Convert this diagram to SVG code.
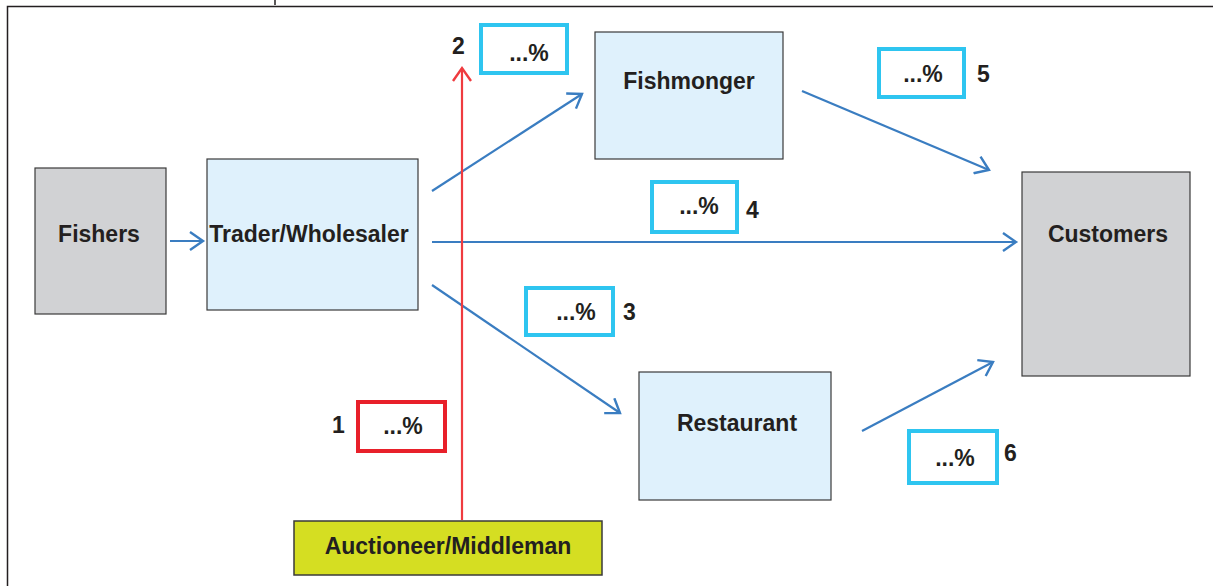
<svg xmlns="http://www.w3.org/2000/svg" width="1213" height="586" viewBox="0 0 1213 586">
  <defs>
    <style>
      .label { font-family: "Liberation Sans", Arial, sans-serif; font-weight: bold; font-size: 23px; fill: #231f20; }
      .mid { text-anchor: middle; }
      .gray { fill: #d1d2d4; stroke: #3a3a3a; stroke-width: 1.2; }
      .light { fill: #dff1fc; stroke: #3a3a3a; stroke-width: 1.2; }
      .auction { fill: #d5de22; stroke: #3a3a3a; stroke-width: 1.5; }
      .pct { fill: #ffffff; stroke: #2ec5f0; stroke-width: 4; }
      .pct-red { fill: #ffffff; stroke: #e8202a; stroke-width: 4; }
      .flow { fill: none; stroke: #3a7dc1; stroke-width: 2.2; marker-end: url(#head-blue); }
      .flow-red { fill: none; stroke: #ef3b3f; stroke-width: 2.2; marker-end: url(#head-red); }
    </style>
    <marker id="head-blue" viewBox="-16 -10 20 20" refX="0" refY="0" markerWidth="20" markerHeight="20" markerUnits="userSpaceOnUse" orient="auto">
      <path d="M-13,-9 L0,0 L-13,9" fill="none" stroke="#3a7dc1" stroke-width="2.4"/>
    </marker>
    <marker id="head-red" viewBox="-16 -10 20 20" refX="0" refY="0" markerWidth="20" markerHeight="20" markerUnits="userSpaceOnUse" orient="auto">
      <path d="M-13,-9 L0,0 L-13,9" fill="none" stroke="#ef3b3f" stroke-width="2.4"/>
    </marker>
  </defs>

  <rect width="1213" height="586" fill="#ffffff"/>

  <!-- outer frame -->
  <path d="M7.5,586 V6.5 H1213" fill="none" stroke="#231f20" stroke-width="1.5"/>
  <line x1="275" y1="0" x2="275" y2="5" stroke="#231f20" stroke-width="1.5"/>

  <!-- connectors -->
  <g id="connectors">
    <line class="flow" x1="170" y1="241" x2="203" y2="241"/>
    <line class="flow" x1="432" y1="191" x2="582" y2="94"/>
    <line class="flow" x1="432" y1="242" x2="1016" y2="242"/>
    <line class="flow" x1="432" y1="285" x2="620" y2="413"/>
    <line class="flow" x1="802" y1="91" x2="989" y2="170"/>
    <line class="flow" x1="862" y1="431" x2="993" y2="362"/>
    <line class="flow-red" x1="462" y1="520" x2="462" y2="68"/>
  </g>

  <!-- nodes -->
  <g id="fishers">
    <rect class="gray" x="35" y="168" width="131" height="146"/>
    <text class="label mid" x="99" y="242">Fishers</text>
  </g>
  <g id="trader">
    <rect class="light" x="207" y="159" width="211" height="151"/>
    <text class="label mid" x="309" y="242">Trader/Wholesaler</text>
  </g>
  <g id="fishmonger">
    <rect class="light" x="595" y="32" width="188" height="127"/>
    <text class="label mid" x="689" y="89">Fishmonger</text>
  </g>
  <g id="restaurant">
    <rect class="light" x="639" y="372" width="192" height="128"/>
    <text class="label mid" x="737" y="431">Restaurant</text>
  </g>
  <g id="customers">
    <rect class="gray" x="1022" y="172" width="168" height="204"/>
    <text class="label mid" x="1108" y="242">Customers</text>
  </g>
  <g id="auctioneer">
    <rect class="auction" x="294" y="521" width="308" height="54"/>
    <text class="label mid" x="448" y="554">Auctioneer/Middleman</text>
  </g>

  <!-- share boxes -->
  <g id="share-1">
    <rect class="pct-red" x="358" y="402" width="87" height="49"/>
    <text class="label mid" x="403" y="434">...%</text>
    <text class="label" x="332" y="433">1</text>
  </g>
  <g id="share-2">
    <rect class="pct" x="481" y="25" width="86" height="48"/>
    <text class="label mid" x="529" y="61">...%</text>
    <text class="label" x="452" y="54">2</text>
  </g>
  <g id="share-3">
    <rect class="pct" x="526" y="288" width="87" height="47"/>
    <text class="label mid" x="576" y="320">...%</text>
    <text class="label" x="623" y="320">3</text>
  </g>
  <g id="share-4">
    <rect class="pct" x="652" y="182" width="85" height="50"/>
    <text class="label mid" x="699" y="214">...%</text>
    <text class="label" x="746" y="218">4</text>
  </g>
  <g id="share-5">
    <rect class="pct" x="879" y="49" width="85" height="48"/>
    <text class="label mid" x="923" y="82">...%</text>
    <text class="label" x="977" y="82">5</text>
  </g>
  <g id="share-6">
    <rect class="pct" x="909" y="431" width="88" height="52"/>
    <text class="label mid" x="955" y="466">...%</text>
    <text class="label" x="1004" y="461">6</text>
  </g>
</svg>
